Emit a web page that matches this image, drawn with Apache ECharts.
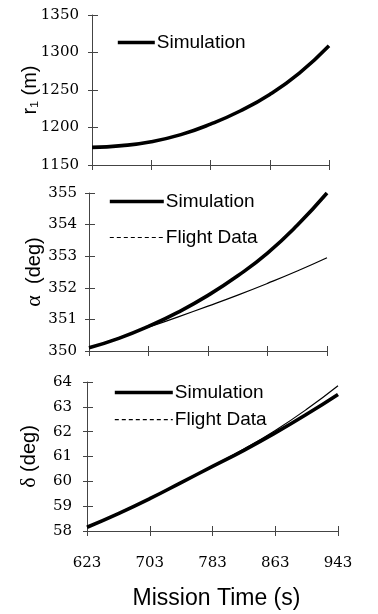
<!DOCTYPE html>
<html>
<head>
<meta charset="utf-8">
<script src="https://cdn.jsdelivr.net/npm/echarts@6/dist/echarts.min.js"></script>
<style>html,body{margin:0;padding:0;background:#fff}#c{width:378px;height:614px}</style>
</head>
<body>
<div id="c"></div>
<script>
// Mission time samples (s)
var times = ['623','663','703','743','783','823','863','903','943'];
// Top panel: r1 (m), simulation
var r1Sim = [1173.5, 1175.8, 1181, 1190.5, 1204.5, 1222, 1244, 1272.5, 1309];
// Middle panel: alpha (deg)
var alphaSim = [350.1, 350.4, 350.78, 351.23, 351.76, 352.38, 353.1, 353.98, 355.0];
var alphaFlight = [350.1, 350.42, 350.75, 351.08, 351.42, 351.77, 352.14, 352.53, 352.95];
// Bottom panel: delta (deg)
var deltaSim = [58.15, 58.7, 59.3, 59.95, 60.6, 61.25, 61.95, 62.7, 63.5];
var deltaFlight = [58.15, 58.7, 59.3, 59.95, 60.62, 61.3, 62.05, 62.9, 63.85];

var chart = echarts.init(document.getElementById('c'));
var numFont = 'DejaVu Serif';
var sans = 'Liberation Sans';
var axisCol = '#444';

var grids = [
  {left: 92, right: 49, top: 15, bottom: 449},
  {left: 89, right: 51, top: 193, bottom: 263},
  {left: 87, right: 40, top: 382, bottom: 83}
];

function xMain(i, showLabels) {
  var o = {
    type: 'category', gridIndex: i, data: times, boundaryGap: false,
    axisLine: {lineStyle: {color: axisCol, width: 1}},
    axisTick: {show: true, interval: 1, length: 5, lineStyle: {color: axisCol}},
    axisLabel: {show: showLabels, interval: 1, margin: 25, color: '#000', fontFamily: numFont, fontSize: 15},
    splitLine: {show: false}
  };
  if (showLabels) {
    o.name = 'Mission Time (s)';
    o.nameLocation = 'middle';
    o.nameGap = 56;
    o.nameMoveOverlap = false;
    o.nameTextStyle = {fontFamily: sans, fontSize: 23, color: '#000', verticalAlign: 'top', padding: [0, 0, 0, 8]};
  }
  return o;
}
function xDup(i) {
  return {
    type: 'category', gridIndex: i, data: times, boundaryGap: false, position: 'bottom',
    axisLine: {show: false},
    axisTick: {show: true, inside: true, interval: 1, length: 5, lineStyle: {color: axisCol}},
    axisLabel: {show: false}, splitLine: {show: false}
  };
}
function yMain(i, min, max, interval, name, gap, margin) {
  return {
    type: 'value', gridIndex: i, min: min, max: max, interval: interval,
    axisLine: {show: true, lineStyle: {color: axisCol, width: 1}},
    axisTick: {show: true, length: 4, lineStyle: {color: axisCol}},
    axisLabel: {margin: margin, color: '#000', fontFamily: numFont, fontSize: 15,
      formatter: function (v) { return String(v); }},
    splitLine: {show: false},
    name: name, nameLocation: 'middle', nameRotate: 90, nameGap: gap, nameMoveOverlap: false,
    nameTextStyle: {fontFamily: sans, fontSize: 20, color: '#000',
      rich: {g: {fontFamily: 'Liberation Serif', fontSize: 22, color: '#000'}}}
  };
}
function yDup(i, min, max, interval) {
  return {
    type: 'value', gridIndex: i, min: min, max: max, interval: interval, position: 'left',
    axisLine: {show: false},
    axisTick: {show: true, inside: true, length: 6, lineStyle: {color: axisCol}},
    axisLabel: {show: false}, splitLine: {show: false}
  };
}

var simStyle = {color: '#000', width: 3.6};
var flightStyle = {color: '#000', width: 1.2};
var legendText = {fontFamily: sans, fontSize: 19, color: '#000', padding: [0, 0, 0, -3]};
var legendBase = {padding: 0, itemHeight: 20, textStyle: legendText, selectedMode: false, itemStyle: {opacity: 0}};

chart.setOption({
  animation: false,
  backgroundColor: '#fff',
  grid: grids,
  xAxis: [xMain(0, false), xMain(1, false), xMain(2, true), xDup(0), xDup(1), xDup(2)],
  yAxis: [
    yMain(0, 1150, 1350, 50, 'r₁ (m)', 52, 13),
    yMain(1, 350, 355, 1, '{g|α}  (deg)', 44, 12),
    yMain(2, 58, 64, 1, '{g|δ} (deg)', 47, 15),
    yDup(0, 1150, 1350, 50), yDup(1, 350, 355, 1), yDup(2, 58, 64, 1)
  ],
  legend: [
    Object.assign({}, legendBase, {left: 116, top: 33, itemWidth: 37,
     data: [{name: 'Simulation', lineStyle: {width: 3.6, type: 'solid'}}]}),
    Object.assign({}, legendBase, {left: 108, top: 192, orient: 'vertical', itemWidth: 54, itemGap: 17,
     data: [{name: 'Simulation', lineStyle: {width: 3.6, type: 'solid'}},
            {name: 'Flight Data', lineStyle: {width: 1.2, type: [4, 3]}}]}),
    Object.assign({}, legendBase, {left: 113, top: 383, orient: 'vertical', itemWidth: 58, itemGap: 8.2,
     data: [{name: 'Simulation', lineStyle: {width: 3.6, type: 'solid'}},
            {name: 'Flight Data', lineStyle: {width: 1.2, type: [4, 3]}}]})
  ],
  series: [
    {name: 'Simulation', type: 'line', xAxisIndex: 0, yAxisIndex: 0, data: r1Sim, smooth: true, symbol: 'none', lineStyle: simStyle, itemStyle: {color: '#000'}},
    {name: 'Flight Data', type: 'line', xAxisIndex: 1, yAxisIndex: 1, data: alphaFlight, smooth: true, symbol: 'none', lineStyle: flightStyle, itemStyle: {color: '#000'}},
    {name: 'Simulation', type: 'line', xAxisIndex: 1, yAxisIndex: 1, data: alphaSim, smooth: true, symbol: 'none', lineStyle: simStyle, itemStyle: {color: '#000'}},
    {name: 'Flight Data', type: 'line', xAxisIndex: 2, yAxisIndex: 2, data: deltaFlight, smooth: true, symbol: 'none', lineStyle: flightStyle, itemStyle: {color: '#000'}},
    {name: 'Simulation', type: 'line', xAxisIndex: 2, yAxisIndex: 2, data: deltaSim, smooth: true, symbol: 'none', lineStyle: simStyle, itemStyle: {color: '#000'}}
  ]
});
</script>
</body>
</html>
